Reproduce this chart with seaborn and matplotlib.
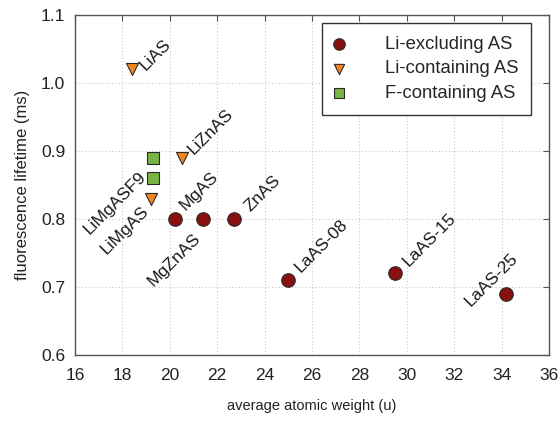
import matplotlib
matplotlib.use("Agg")
import matplotlib.pyplot as plt
import seaborn as sns
import pandas as pd

# Sample data: average atomic weight (u) vs fluorescence lifetime (ms)
names = ["MgAS", "MgZnAS", "ZnAS", "LaAS-08", "LaAS-15", "LaAS-25",
         "LiAS", "LiZnAS", "LiMgAS",
         "LiMgASF9", ""]
weight = [20.2, 21.4, 22.7, 25.0, 29.5, 34.2,
          18.4, 20.5, 19.2,
          19.3, 19.3]
lifetime = [0.80, 0.80, 0.80, 0.71, 0.72, 0.69,
            1.02, 0.89, 0.83,
            0.86, 0.89]
group = ["Li-excluding AS"] * 6 + ["Li-containing AS"] * 3 + ["F-containing AS"] * 2

groups = ["Li-excluding AS", "Li-containing AS", "F-containing AS"]
colors = ["#8a0f0f", "#f5861f", "#7ab443"]
markers = ["o", "v", "s"]
sizes = [95, 75, 72]

x_ticks = [16, 18, 20, 22, 24, 26, 28, 30, 32, 34, 36]
y_ticks = [0.6, 0.7, 0.8, 0.9, 1.0, 1.1]

# label placement: (dx, dy) in pixels, horizontal alignment
label_pos = {
    "MgAS": (8, 11, "left"),
    "MgZnAS": (-5, -17, "right"),
    "ZnAS": (14, 10, "left"),
    "LaAS-08": (9, 10, "left"),
    "LaAS-15": (10, 10, "left"),
    "LaAS-25": (9, 38, "right"),
    "LiAS": (11, 2, "left"),
    "LiZnAS": (9, 6, "left"),
    "LiMgAS": (-5, -10, "right"),
    "LiMgASF9": (-10, 4, "right"),
}

df = pd.DataFrame({"name": names, "weight": weight, "lifetime": lifetime, "group": group})

sns.set_theme(style="white")
plt.rcParams["font.family"] = ["Liberation Sans", "DejaVu Sans"]

fig = plt.figure(figsize=(5.6, 4.23), dpi=100)
ax = fig.add_axes([75 / 560, 1 - 355 / 423, 474 / 560, 340 / 423])

for g, c, m, s in zip(groups, colors, markers, sizes):
    sub = df[df["group"] == g]
    sns.scatterplot(data=sub, x="weight", y="lifetime", ax=ax, color=c, marker=m,
                    s=s, edgecolor="#2a2a2a", linewidth=0.8, label=g, zorder=3)

for _, row in df.iterrows():
    if not row["name"]:
        continue
    dx, dy, ha = label_pos[row["name"]]
    ax.annotate(row["name"], (row["weight"], row["lifetime"]),
                xytext=(dx, dy), textcoords="offset pixels",
                rotation=45, rotation_mode="anchor", ha=ha, va="center",
                fontsize=12.5, color="#1a1a1a", zorder=4)

ax.set_xlim(16, 36)
ax.set_ylim(0.6, 1.1)
ax.set_xticks(x_ticks)
ax.set_yticks(y_ticks)
ax.set_yticklabels([f"{v:.1f}" for v in y_ticks])
ax.tick_params(direction="in", length=4, width=0.8, color="#555555",
               top=True, right=True, labelsize=12.5, labelcolor="#222222")
ax.tick_params(axis="x", pad=9)
ax.tick_params(axis="y", pad=7)
ax.grid(True, linestyle=(0, (1, 2)), color="#c8c8c8", linewidth=0.8)
for sp in ax.spines.values():
    sp.set_color("#555555")
    sp.set_linewidth(1.0)

ax.set_xlabel("average atomic weight (u)", fontsize=10.5, color="#222222", labelpad=12)
ax.set_ylabel("fluorescence lifetime (ms)", fontsize=12, color="#222222", labelpad=8)

leg = ax.legend(loc="upper right", fontsize=13.3, frameon=True, fancybox=False,
                borderpad=0.7, handlelength=0.44, handletextpad=2.27, labelspacing=0.4,
                markerscale=0.85, borderaxespad=0, bbox_to_anchor=(0.962, 0.976))
leg.get_frame().set_edgecolor("#333333")
leg.get_frame().set_linewidth(1.0)
leg.get_frame().set_alpha(1)

fig.savefig("out.png", dpi=100)
